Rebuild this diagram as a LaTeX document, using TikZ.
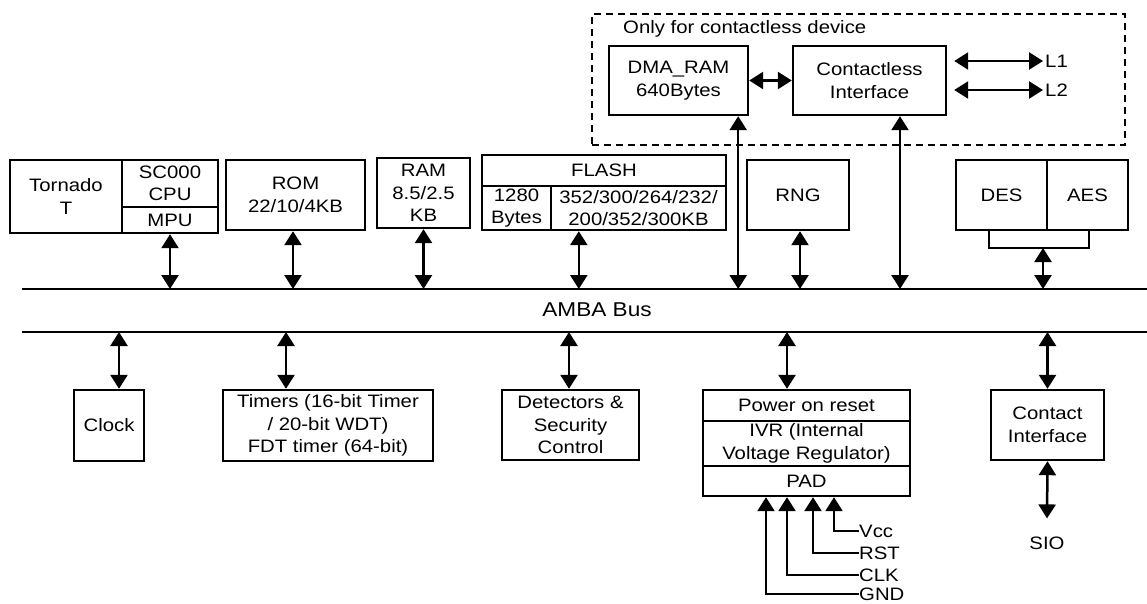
\documentclass[tikz,border=0pt]{standalone}
\usepackage{fontspec}
\setmainfont{Liberation Sans}[FakeStretch=1.13]
\usetikzlibrary{arrows.meta,positioning,calc}

\begin{document}
\begin{tikzpicture}[x=1pt,y=-1pt,
		font=\fontsize{18}{22.5}\selectfont,
		blk/.style 2 args={draw, line width=2.4pt, minimum width=#1pt, minimum height=#2pt, inner sep=0pt, align=center},
		dbl/.style={line width=2.5pt, {Triangle[length=14pt,width=17pt]}-{Triangle[length=14pt,width=17pt]}},
		sig/.style={line width=2.5pt, -{Triangle[length=14pt,width=17pt]}},
		lbl/.style={anchor=west, inner sep=0pt}]
			
			\useasboundingbox (0,0) rectangle (1147,603);
			
			% bus
			\coordinate (bustop) at (22,289);
			\coordinate (bustopE) at (1147,289);
			\coordinate (busbot) at (22,332);
			\coordinate (busbotE) at (1147,332);
			\draw[line width=2.4pt] (bustop) -- (bustopE);
			\draw[line width=1.8pt] (busbot) -- (busbotE);
			\node[font=\fontsize{20}{24}\selectfont] (amba) at (597,310) {AMBA Bus};
			
			% contactless part
			\node[draw, line width=2.2pt, dash pattern=on 7pt off 5pt, minimum width=533pt, minimum height=131pt] (cless) at (858.5,79.5) {};
			\node[lbl] (clesst) at (623,29) {Only for contactless device};
			\node[blk={139}{69}] (dma) at (678.5,80.5) {DMA\_RAM\\640Bytes};
			\node[blk={153}{69}] (ctl) at (869.5,80.5) {Contactless\\Interface};
			\node[anchor=west, inner sep=2pt] (l1) at (1043,61) {L1};
			\node[anchor=west, inner sep=2pt] (l2) at (1043,90) {L2};
			\draw[dbl] (dma.east) -- (ctl.west);
			\draw[dbl, shorten >=7pt] (l1.west) -- (l1.west -| ctl.east);
			\draw[dbl, shorten >=7pt] (l2.west) -- (l2.west -| ctl.east);
			
			% upper blocks
			\node[blk={112}{73}] (tor) at (66,196.5) {Tornado\\T};
			\node[blk={96}{47}] (cpu) at (170,183.5) {SC000\\CPU};
			\node[blk={96}{26}] (mpu) at (170,220) {MPU};
			\node[blk={139}{70}] (rom) at (295.5,195) {ROM\\22/10/4KB};
			\node[blk={93}{70}] (ram) at (423.5,193) {RAM\\8.5/2.5\\KB};
			\node[blk={244}{31}] (flash) at (604,170.5) {FLASH};
			\node[blk={69}{44}] (flsml) at (516.5,208) {1280\\Bytes};
			\node[blk={175}{44}] (flbig) at (638.5,208) {352/300/264/232/\\200/352/300KB};
			\node[blk={102}{70}] (rng) at (798,195) {RNG};
			\node[blk={91}{70}] (des) at (1001.5,195) {DES};
			\node[blk={81}{70}] (aes) at (1087.5,195) {AES};
			\coordinate (brk) at (1043,248);
			
			\draw[dbl] (mpu.south) -- (mpu.south |- bustop);
			\draw[dbl] ([xshift=-2.5pt]rom.south) -- ([xshift=-2.5pt]rom.south |- bustop);
			\draw[dbl] (ram.south) -- (ram.south |- bustop);
			\draw[dbl] ([xshift=29pt]flbig.south west) -- ([xshift=29pt]flbig.south west |- bustop);
			\draw[dbl] ([xshift=-11pt]dma.south east) -- ([xshift=-11pt]dma.south east |- bustop);
			\draw[dbl] ([xshift=2pt]rng.south) -- ([xshift=2pt]rng.south |- bustop);
			\draw[dbl] ([xshift=30.5pt]ctl.south) -- ([xshift=30.5pt]ctl.south |- bustop);
			\draw[line width=2.4pt] ([xshift=-12.5pt]des.south) |- (brk) -| ([xshift=1.5pt]aes.south);
			\draw[dbl] (brk) -- (brk |- bustop);
			
			% lower blocks
			\node[blk={70}{71}] (clk) at (109,425.5) {Clock};
			\node[blk={210}{71}] (tmr) at (328,425.5) {Timers (16-bit Timer\\/ 20-bit WDT)\\FDT timer (64-bit)};
			\node[blk={137}{70}] (det) at (570.5,425) {Detectors \&\\Security\\Control};
			\node[blk={207}{31}] (por) at (806.5,405.5) {Power on reset};
			\node[blk={207}{45}] (ivr) at (806.5,443.5) {IVR (Internal\\Voltage Regulator)};
			\node[blk={207}{30}] (pad) at (806.5,481) {PAD};
			\node[blk={113}{70}] (cti) at (1047.5,425) {Contact\\Interface};
			\node[inner sep=0pt] (sio) at (1047,543) {SIO};
			
			\draw[dbl] ([xshift=10pt]clk.north) -- ([xshift=10pt]clk.north |- busbot);
			\draw[dbl] ([xshift=-42pt]tmr.north) -- ([xshift=-42pt]tmr.north |- busbot);
			\draw[dbl] ([xshift=-1.5pt]det.north) -- ([xshift=-1.5pt]det.north |- busbot);
			\draw[dbl] ([xshift=-19.5pt]por.north) -- ([xshift=-19.5pt]por.north |- busbot);
			\draw[dbl] (cti.north) -- (cti.north |- busbot);
			\draw[dbl] (cti.south) -- ([yshift=18pt]sio.north);
			
			% pad signals
			\node[lbl] (vcc) at (859,531) {Vcc};
			\node[lbl] (rst) at (859,553) {RST};
			\node[lbl] (clkin) at (859,575) {CLK};
			\node[lbl] (gnd) at (859,594) {GND};
			\draw[sig] (vcc.west) -| ([xshift=27.5pt]pad.south);
			\draw[sig] (rst.west) -| ([xshift=6.5pt]pad.south);
			\draw[sig] (clkin.west) -| ([xshift=-19.5pt]pad.south);
			\draw[sig] (gnd.west) -| ([xshift=-40.5pt]pad.south);
			
		\end{tikzpicture}
\end{document}
